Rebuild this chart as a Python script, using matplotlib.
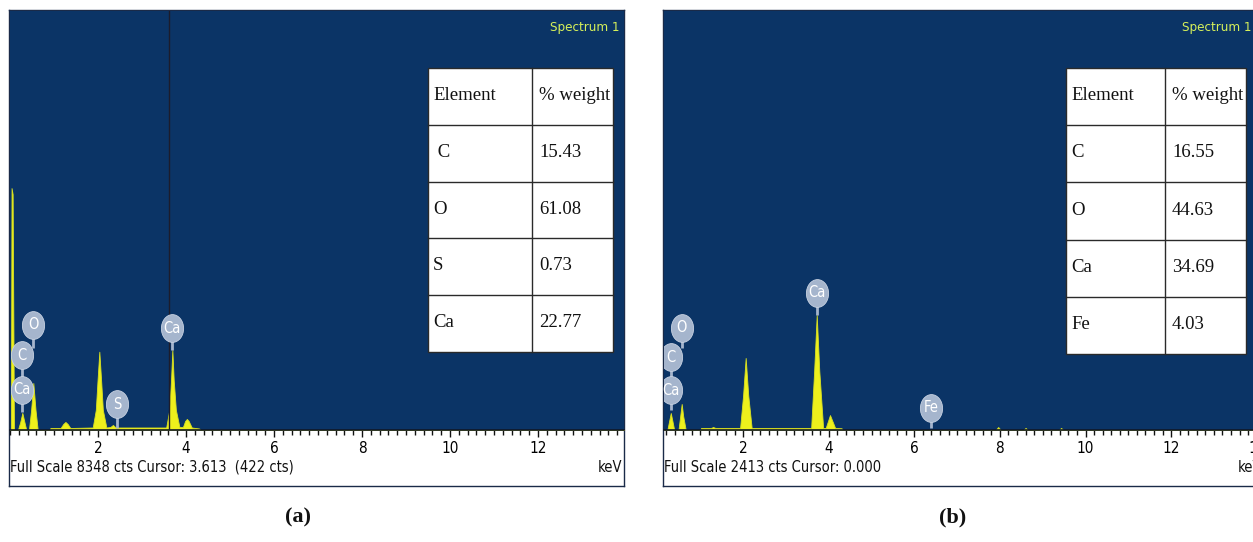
import matplotlib
matplotlib.use('Agg')
import matplotlib.pyplot as plt
from matplotlib.path import Path
from matplotlib.patches import Rectangle
from matplotlib.ticker import MultipleLocator
from matplotlib import font_manager as fm

W, H = 1253, 542
_names = {f.name for f in fm.fontManager.ttflist}
_narrow_first = [n for n in ['Liberation Sans Narrow', 'DejaVu Sans Condensed'] if n in _names]
NARROW = _narrow_first + ['DejaVu Sans']
SERIF = ['Liberation Serif', 'DejaVu Serif']
NARROW_KW = dict(family=NARROW, fontstretch='condensed')

BLUE = '#0b3466'
YELLOW = '#eef01c'
BADGE = '#a5b5cd'

# ---------------- data: panel (a) ----------------
a_energy = [0.00, 0.02, 0.035, 0.06, 0.09, 0.18, 0.23, 0.28, 0.33, 0.37, 0.43, 0.48, 0.53,
            0.58, 0.63, 0.90, 0.92, 1.15, 1.21, 1.26, 1.31, 1.37, 1.88, 1.95, 1.99, 2.03,
            2.07, 2.11, 2.19, 2.28, 2.34, 2.40, 3.55, 3.62, 3.66, 3.69, 3.72, 3.77, 3.85,
            3.93, 3.98, 4.02, 4.06, 4.13, 4.30, 4.33, 13.95]
a_counts = [0, 0, 4820, 4700, 0, 0, 150, 340, 150, 0, 0, 400, 936,
            400, 0, 0, 40, 40, 120, 160, 120, 40, 50, 400, 1000, 1560,
            1000, 400, 50, 60, 100, 50, 50, 400, 1000, 1594, 1000, 400, 60,
            60, 180, 220, 180, 50, 30, 0, 0]
a_full_scale = 8348
a_cursor_kev = 3.613
a_cursor_cts = 422
a_badge_labels = ['O', 'C', 'Ca', 'Ca', 'S']
a_badge_kev = [0.53, 0.27, 0.27, 3.69, 2.43]
a_badge_cts = [2092, 1494, 797, 2032, 518]
a_badge_stem_cts = [1633, 1036, 358, 1594, 40]
a_elements = [' C', 'O', 'S', 'Ca']
a_weights = ['15.43', '61.08', '0.73', '22.77']

# ---------------- data: panel (b) ----------------
b_energy = [0.16, 0.23, 0.27, 0.31, 0.35, 0.39, 0.49, 0.53, 0.565, 0.60, 0.66, 1.00, 1.02,
            1.25, 1.30, 1.35, 1.93, 2.00, 2.06, 2.12, 2.20, 3.59, 3.66, 3.72, 3.78, 3.87,
            3.93, 4.03, 4.15, 4.30, 4.33, 7.90, 7.96, 8.02, 8.55, 8.60, 8.65, 9.38,
            9.43, 9.48, 14.1]
b_counts = [0, 0, 50, 98, 50, 0, 0, 80, 150, 80, 0, 0, 12,
            12, 17, 12, 12, 200, 415, 200, 12, 12, 340, 662, 340, 12,
            12, 86, 12, 10, 0, 0, 17, 0, 0, 12, 0, 0,
            12, 0, 0]
b_full_scale = 2413
b_cursor_kev = 0.000
b_badge_labels = ['Ca', 'O', 'C', 'Ca', 'Fe']
b_badge_kev = [3.72, 0.565, 0.31, 0.31, 6.39]
b_badge_cts = [789, 588, 420, 230, 127]
b_badge_stem_cts = [662, 472, 300, 115, 12]
b_elements = ['C', 'O', 'Ca', 'Fe']
b_weights = ['16.55', '44.63', '34.69', '4.03']

tick_values = [2, 4, 6, 8, 10, 12, 14]

# ellipse-shaped badge marker
_circ = Path.unit_circle()
BADGE_MARKER = Path(_circ.vertices * [0.8, 1.0], _circ.codes)

fig = plt.figure(figsize=(W / 100, H / 100), dpi=100)


def rect(x0, y0, x1, y1):
    return [x0 / W, 1 - y1 / H, (x1 - x0) / W, (y1 - y0) / H]


def ftext(x, y, s, **kw):
    fig.text(x / W, 1 - y / H, s, **kw)


def panel(frame, spec, xlim, energy, counts, full, badges, cursor_kev,
          table_box, col_split, elements, weights, status, label_xy, label):
    fa = fig.add_axes(rect(*frame))
    fa.set_facecolor('white')
    fa.set_xticks([])
    fa.set_yticks([])
    for s in fa.spines.values():
        s.set_color('#1a2a48')
        s.set_linewidth(1.0)

    ax = fig.add_axes(rect(*spec))
    ax.set_facecolor(BLUE)
    ax.set_xlim(*xlim)
    ax.set_ylim(0, full)
    ax.fill_between(energy, counts, 0, color=YELLOW, lw=0.6, edgecolor='#d8e020', zorder=2)
    if cursor_kev is not None and xlim[0] < cursor_kev < xlim[1]:
        ax.axvline(cursor_kev, color='#1c1c2c', lw=1.0, zorder=3)
    labels, kev, cts, stem = badges
    for lab, k, c, st in zip(labels, kev, cts, stem):
        ax.plot([k, k], [st, c], color=BADGE, lw=2.0, zorder=4, solid_capstyle='butt')
    for lab, k, c, st in zip(labels, kev, cts, stem):
        ax.plot([k], [c], marker=BADGE_MARKER, ms=20, color=BADGE, mec='#c8d2e2', mew=0.6,
                zorder=5, linestyle='none')
        ax.text(k, c, lab, color='white', fontsize=10.5, ha='center', va='center', zorder=6,
                **NARROW_KW)
    for s in ['left', 'right', 'top']:
        ax.spines[s].set_visible(False)
    ax.spines['bottom'].set_color('#101828')
    ax.spines['bottom'].set_linewidth(1.2)
    ax.set_yticks([])
    ax.set_xticks([v for v in tick_values if xlim[0] <= v <= xlim[1]])
    ax.xaxis.set_minor_locator(MultipleLocator(0.2))
    ax.tick_params(axis='x', which='major', direction='out', length=5, width=1,
                   color='#111111', pad=3, labelsize=11)
    ax.tick_params(axis='x', which='minor', direction='out', length=3.5, width=1,
                   color='#111111')
    for t in ax.get_xticklabels():
        t.set_family(NARROW)
        t.set_fontstretch('condensed')

    # table
    x0, y0, x1, y1 = table_box
    rows = [('Element', '% weight')] + list(zip(elements, weights))
    nrow = len(rows)
    rh = (y1 - y0) / nrow
    fig.add_artist(Rectangle((x0 / W, 1 - y1 / H), (x1 - x0) / W, (y1 - y0) / H,
                             transform=fig.transFigure, facecolor='white',
                             edgecolor='#2a2a2a', lw=1.0, zorder=7))
    for i in range(1, nrow):
        yy = 1 - (y0 + i * rh) / H
        fig.add_artist(plt.Line2D([x0 / W, x1 / W], [yy, yy], transform=fig.transFigure,
                                  color='#2a2a2a', lw=1.0, zorder=8))
    fig.add_artist(plt.Line2D([col_split / W, col_split / W], [1 - y0 / H, 1 - y1 / H],
                              transform=fig.transFigure, color='#2a2a2a', lw=1.0, zorder=8))
    for i, (e, w) in enumerate(rows):
        yc = y0 + (i + 0.5) * rh - 1
        ftext(x0 + 5, yc, e, family=SERIF, fontsize=13.5, va='center', ha='left',
              color='#111111', zorder=9)
        ftext(col_split + 7, yc, w, family=SERIF, fontsize=13.5, va='center', ha='left',
              color='#111111', zorder=9)

    sx, sy, keVx = status[1], status[2], status[3]
    ftext(sx, sy, status[0], fontsize=10.5, va='center', ha='left', color='#111111', **NARROW_KW)
    ftext(keVx, sy, 'keV', fontsize=10.5, va='center', ha='right', color='#111111', **NARROW_KW)
    ftext(status[4], 28, 'Spectrum 1', fontsize=9.5, va='center', ha='right',
          color='#d6f05a', **NARROW_KW)
    ftext(label_xy[0], label_xy[1], label, family=SERIF, fontsize=16, fontweight='bold',
          va='center', ha='center', color='#111111')


panel(frame=(9, 10, 624, 486), spec=(10, 11, 624, 430), xlim=(0, 614 / 44.0),
      energy=a_energy, counts=a_counts, full=a_full_scale,
      badges=(a_badge_labels, a_badge_kev, a_badge_cts, a_badge_stem_cts),
      cursor_kev=a_cursor_kev, table_box=(428, 68, 613, 352), col_split=532,
      elements=a_elements, weights=a_weights,
      status=('Full Scale %d cts Cursor: %.3f  (%d cts)' % (a_full_scale, a_cursor_kev, a_cursor_cts),
              10, 467, 622, 620),
      label_xy=(298, 517), label='(a)')

panel(frame=(663, 10, 1275, 486), spec=(664, 11, 1275, 430),
      xlim=((664 - 657.5) / 42.8, (1275 - 657.5) / 42.8),
      energy=b_energy, counts=b_counts, full=b_full_scale,
      badges=(b_badge_labels, b_badge_kev, b_badge_cts, b_badge_stem_cts),
      cursor_kev=None, table_box=(1066, 68, 1246, 354), col_split=1165,
      elements=b_elements, weights=b_weights,
      status=('Full Scale %d cts Cursor: %.3f' % (b_full_scale, b_cursor_kev),
              664, 467, 1262, 1252),
      label_xy=(953, 517), label='(b)')

fig.savefig('out.png', dpi=100, facecolor='white')
